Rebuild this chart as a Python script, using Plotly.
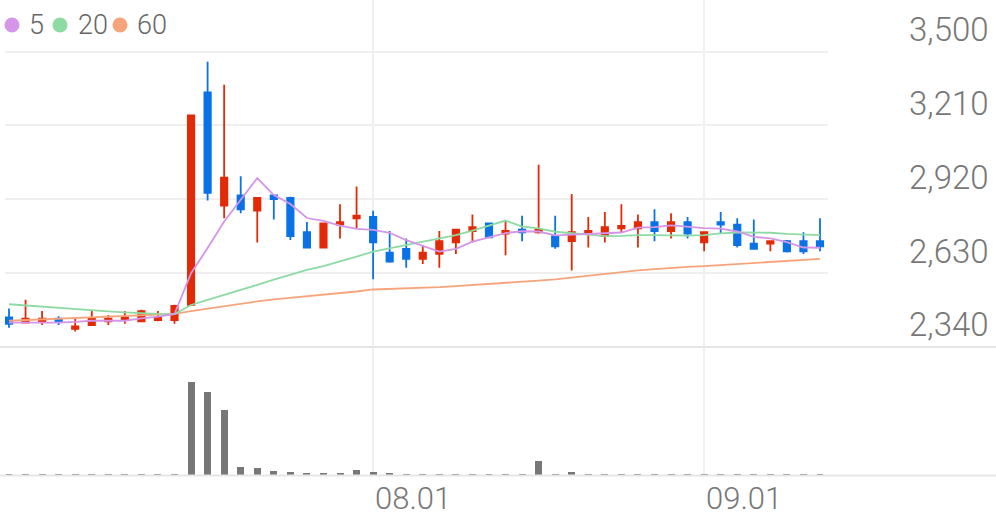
import plotly.graph_objects as go

# ---- data ----
day = list(range(50))
tick_days = [22, 42]
tick_labels = ["08.01", "09.01"]
price_ticks = [2340, 2630, 2920, 3210, 3500]

open_ = [2455, 2435, 2440, 2450, 2410, 2425, 2440, 2445, 2440, 2445, 2445, 2505, 3340, 2895, 2935, 2875, 2935, 2925, 2790, 2730,
         2820, 2845, 2850, 2710, 2725, 2685, 2705, 2750, 2795, 2825, 2785, 2800, 2790, 2775, 2755, 2785, 2775, 2805, 2805, 2830,
         2795, 2830, 2750, 2830, 2820, 2745, 2745, 2755, 2755, 2755]
high = [2490, 2525, 2480, 2460, 2450, 2480, 2465, 2480, 2485, 2480, 2505, 3250, 3460, 3370, 3010, 2925, 2935, 2930, 2830, 2825,
        2900, 2970, 2875, 2795, 2765, 2740, 2795, 2800, 2860, 2825, 2835, 2855, 3055, 2855, 2940, 2850, 2870, 2900, 2860, 2880,
        2865, 2850, 2790, 2870, 2845, 2840, 2755, 2760, 2790, 2845]
low = [2415, 2435, 2425, 2425, 2400, 2425, 2425, 2430, 2440, 2440, 2430, 2500, 2915, 2845, 2865, 2750, 2840, 2760, 2730, 2730,
       2765, 2805, 2605, 2670, 2650, 2665, 2650, 2705, 2750, 2770, 2700, 2755, 2785, 2725, 2640, 2730, 2750, 2790, 2730, 2755,
       2765, 2765, 2715, 2785, 2730, 2725, 2715, 2710, 2705, 2715]
close = [2430, 2450, 2450, 2440, 2420, 2450, 2450, 2455, 2480, 2455, 2500, 3250, 2945, 3005, 2880, 2925, 2920, 2775, 2730, 2825,
         2830, 2855, 2750, 2675, 2685, 2710, 2755, 2800, 2810, 2770, 2795, 2790, 2800, 2735, 2790, 2795, 2810, 2815, 2830, 2795,
         2830, 2785, 2790, 2820, 2740, 2725, 2755, 2715, 2715, 2735]

ma5 = [2435, 2434, 2434, 2435, 2438, 2442, 2442, 2442, 2451, 2458, 2468, 2629, 2728, 2832, 2918, 3003, 2936, 2901, 2846, 2835,
       2816, 2803, 2799, 2788, 2759, 2735, 2714, 2725, 2753, 2770, 2787, 2794, 2793, 2778, 2781, 2782, 2786, 2789, 2808, 2810,
       2817, 2811, 2806, 2804, 2793, 2772, 2766, 2751, 2730, 2729]
ma20 = [2507, 2502, 2497, 2492, 2487, 2482, 2479, 2475, 2471, 2469, 2468, 2504, 2524, 2543, 2563, 2583, 2604, 2624, 2642, 2657,
        2674, 2694, 2714, 2727, 2740, 2753, 2766, 2779, 2796, 2816, 2836, 2812, 2805, 2792, 2786, 2780, 2775, 2776, 2779, 2779,
        2778, 2777, 2779, 2786, 2789, 2789, 2788, 2784, 2781, 2779]
ma60 = [2442, 2445, 2448, 2450, 2453, 2456, 2458, 2461, 2464, 2466, 2469, 2480, 2490, 2500, 2509, 2518, 2526, 2532, 2538, 2543,
        2551, 2557, 2565, 2567, 2569, 2572, 2574, 2578, 2582, 2587, 2591, 2595, 2600, 2605, 2612, 2620, 2628, 2635, 2640, 2645,
        2650, 2654, 2657, 2661, 2665, 2669, 2673, 2677, 2681, 2685]

volume = [150000, 150000, 100000, 100000, 150000, 100000, 100000, 100000, 100000, 150000, 150000, 9330000, 8400000, 6570000,
          900000, 770000, 450000, 400000, 250000, 250000, 250000, 550000, 400000, 250000, 200000, 150000, 150000, 150000,
          150000, 150000, 150000, 150000, 1500000, 150000, 400000, 150000, 150000, 150000, 200000, 150000, 150000, 150000,
          150000, 150000, 150000, 150000, 150000, 100000, 100000, 100000]

ma_names = ["5", "20", "60"]
ma_colors = ["#d595e9", "#8ddba3", "#f7a47c"]

# ---- styling / layout constants ----
W, H = 996, 519
RED = "#e32a06"
BLUE = "#0a72e6"
FONT = "Roboto"


def fy(p):
    return (H - p) / H


def fx(p):
    return p / W


fig = go.Figure()

fig.add_trace(go.Candlestick(
    x=day, open=open_, high=high, low=low, close=close,
    increasing=dict(line=dict(color=RED, width=1.8), fillcolor=RED),
    decreasing=dict(line=dict(color=BLUE, width=1.8), fillcolor=BLUE),
    xaxis="x", yaxis="y", showlegend=False, hoverinfo="skip",
))

for vals, col in [(ma60, ma_colors[2]), (ma20, ma_colors[1]), (ma5, ma_colors[0])]:
    fig.add_trace(go.Scatter(x=day, y=vals, mode="lines", line=dict(color=col, width=1.8),
                             xaxis="x", yaxis="y", showlegend=False, hoverinfo="skip"))

fig.add_trace(go.Bar(x=day, y=volume, marker=dict(color="#777777", line=dict(width=0)),
                     width=0.42, xaxis="x2", yaxis="y2", showlegend=False, hoverinfo="skip"))

# price pane: pixels 0..347 ; 3500 at 51.7px, 2340 at 346.7px
ppx = (3500 - 2340) / (346.7 - 51.7)
y_top = 3500 + 51.7 * ppx
y_bot = 3500 - (347 - 51.7) * ppx

# x: first candle at 9px, last at 820px, domain 5..828px
sp = (820 - 9) / 49
x_lo = -(9 - 5) / sp
x_hi = 49 + (828 - 820) / sp
xdom = [fx(5), fx(828)]

grid = "#efefef"
axis_common = dict(range=[x_lo, x_hi], domain=xdom, tickmode="array", tickvals=tick_days,
                   showgrid=True, gridcolor=grid, gridwidth=1.5, zeroline=False, showline=False,
                   fixedrange=True, ticks="", automargin=False)

fig.update_layout(
    template="none",
    width=W, height=H, autosize=False,
    margin=dict(l=0, r=0, t=0, b=0, pad=0),
    paper_bgcolor="white", plot_bgcolor="white",
    boxgap=0.45, boxgroupgap=0.3,
    bargap=0,
    xaxis=dict(**axis_common, anchor="y", showticklabels=False, rangeslider=dict(visible=False)),
    xaxis2=dict(**axis_common, anchor="y2", showticklabels=True, ticktext=tick_labels,
                tickfont=dict(family=FONT, size=31, color="#777777", weight=300),
                ticklabelshift=40, ticklabelstandoff=1),
    yaxis=dict(domain=[fy(347), 1.0], range=[y_bot, y_top], side="right", anchor="x",
               tickmode="array", tickvals=price_ticks, tickformat=",d",
               showgrid=True, gridcolor=grid, gridwidth=1.5, zeroline=False, showline=False,
               tickfont=dict(family=FONT, size=33, color="#777777", weight=300),
               ticklabelstandoff=80, ticklabelshift=-22, ticks="", fixedrange=True, automargin=False),
    yaxis2=dict(domain=[fy(475.5), fy(347)], range=[0, (475.5 - 347) * 100000], anchor="x2",
                showgrid=False, showticklabels=False, zeroline=False, showline=False, fixedrange=True,
                automargin=False),
    showlegend=False,
)

shapes = []
# pane separator lines (full width)
for py in (347, 475.5):
    shapes.append(dict(type="line", xref="paper", yref="paper", x0=0, x1=1, y0=fy(py), y1=fy(py),
                       line=dict(color="#e6e6e6", width=2), layer="above"))

# legend swatches
leg_cx = [12, 60, 120]
leg_tx = [27, 76, 135]
r = 7.5
annotations = []
for cx, tx, name, col in zip(leg_cx, leg_tx, ma_names, ma_colors):
    shapes.append(dict(type="circle", xref="paper", yref="paper",
                       x0=fx(cx - r), x1=fx(cx + r), y0=fy(25 + r), y1=fy(25 - r),
                       fillcolor=col, line=dict(width=0)))
    annotations.append(dict(text=name, xref="paper", yref="paper", x=fx(tx), y=fy(25),
                            xanchor="left", yanchor="middle", showarrow=False,
                            font=dict(family=FONT, size=27, color="#666666", weight=300)))

fig.update_layout(shapes=shapes, annotations=annotations)

fig.write_html("out.html", config={"displayModeBar": False},
               post_script="document.body.style.margin='0';document.body.style.overflow='hidden';")
